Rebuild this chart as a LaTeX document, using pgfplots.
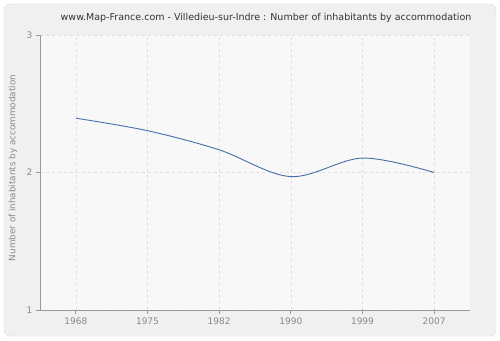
\documentclass[border=0pt]{standalone}
\usepackage{pgfplots}
\pgfplotsset{compat=1.18}
\usepackage{fontspec}
\setmainfont{DejaVu Sans}
\usetikzlibrary{patterns}
\definecolor{outerbg}{HTML}{F0F0F0}
\definecolor{outerborder}{HTML}{DDDDDD}
\definecolor{axisgray}{HTML}{999999}
\definecolor{ticktext}{HTML}{888888}
\definecolor{gridgray}{HTML}{E0E0E0}
\definecolor{linecol}{RGB}{70,110,170}
\definecolor{hatch}{HTML}{EBEBEB}
\begin{document}
\begin{tikzpicture}[x=1pt,y=1pt]
\useasboundingbox (0,0) rectangle (500,340);
\fill[outerbg, draw=outerborder, rounded corners=6pt] (4,4) rectangle (496,336);
\node[font=\fontsize{9.5}{11}\selectfont, text=black!80] at (266,322) {www.Map-France.com - Villedieu-sur-Indre : Number of inhabitants by accommodation};
\node[font=\fontsize{8.8}{10}\selectfont, text=ticktext, rotate=90] at (13,172) {Number of inhabitants by accommodation};
\begin{axis}[
  at={(40pt,30pt)}, anchor=south west,
  scale only axis, width=430pt, height=275pt,
  xmin=-0.5, xmax=5.5, ymin=1, ymax=3,
  xtick={0,1,2,3,4,5},
  xticklabels={1968,1975,1982,1990,1999,2007},
  ytick={1,2,3},
  axis lines*=left,
  axis line style={axisgray, line width=0.8pt},
  tick style={axisgray, line width=0.8pt},
  tick align=outside, major tick length=4pt,
  tick label style={font=\fontsize{9}{10}\selectfont, text=ticktext},
  /pgf/number format/assume math mode=true,
  grid=major,
  grid style={gridgray, dashed, line width=0.6pt},
  axis background/.style={fill=white, postaction={pattern=north east lines, pattern color=hatch}},
  clip=false,
]
\addplot[linecol, line width=0.9pt, smooth, tension=0.55] coordinates {
  (0,2.395) (1,2.304) (2,2.165) (3,1.97) (4,2.105) (5,2.00)
};
\end{axis}
\end{tikzpicture}
\end{document}
